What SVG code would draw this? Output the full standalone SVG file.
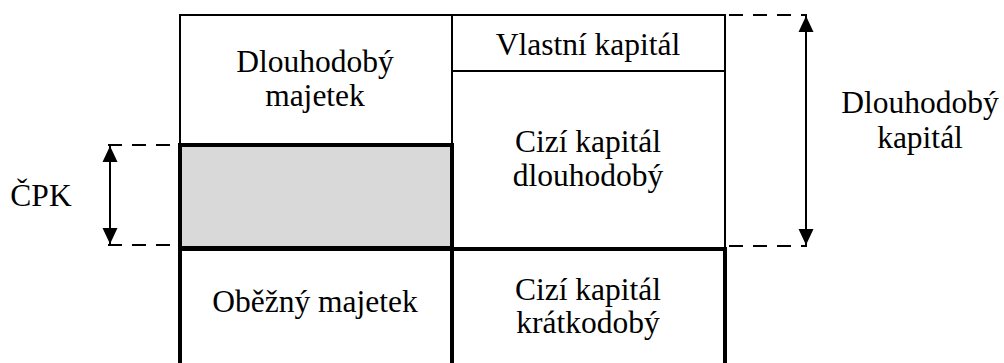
<svg xmlns="http://www.w3.org/2000/svg" width="1004" height="363" viewBox="0 0 1004 363">
<style>
.thin{fill:none;stroke:#000;stroke-width:2}
.thick{fill:none;stroke:#000;stroke-width:4}
.dash{fill:none;stroke:#000;stroke-width:2;stroke-dasharray:14 10}
.arr{fill:none;stroke:#000;stroke-width:2;marker-start:url(#ah);marker-end:url(#ah)}
text{font-family:'Liberation Serif','Times New Roman',serif;font-size:31.5px;fill:#000;text-anchor:middle}
</style>
<defs>
<marker id="ah" viewBox="0 0 16 16" refX="16" refY="8" markerWidth="16" markerHeight="16" markerUnits="userSpaceOnUse" orient="auto-start-reverse">
<path d="M0,0.5 L16,8 L0,15.5 Z" fill="#000"/>
</marker>
</defs>
<rect width="1004" height="363" fill="#fff"/>
<g id="dlouhodoby-majetek">
<rect class="thin" x="180" y="15" width="272" height="130"/>
<text x="315" y="72">Dlouhodobý</text>
<text x="315" y="106">majetek</text>
</g>
<g id="vlastni-kapital">
<rect class="thin" x="452" y="15" width="273" height="56"/>
<text x="588" y="55">Vlastní kapitál</text>
</g>
<g id="cizi-kapital-dlouhodoby">
<rect class="thin" x="452" y="71" width="273" height="178"/>
<text x="588" y="152">Cizí kapitál</text>
<text x="588" y="186">dlouhodobý</text>
</g>
<g id="cpk-box">
<rect x="180" y="145" width="272" height="103" fill="#d9d9d9" stroke="#000" stroke-width="4"/>
</g>
<g id="obezny-majetek">
<rect class="thick" x="180" y="249" width="272" height="130"/>
<text x="315" y="312">Oběžný majetek</text>
</g>
<g id="cizi-kapital-kratkodoby">
<rect class="thick" x="452" y="249" width="273" height="130"/>
<text x="588" y="300">Cizí kapitál</text>
<text x="588" y="333">krátkodobý</text>
</g>
<g id="cpk-label">
<text x="41" y="206">ČPK</text>
</g>
<g id="dlouhodoby-kapital-label">
<text x="920" y="113">Dlouhodobý</text>
<text x="920" y="148">kapitál</text>
</g>
<g id="connectors">
<path class="dash" d="M108,145 H180 M108,245 H180"/>
<path class="dash" d="M729,15 H807 M729,246 H807"/>
<path class="arr" d="M110,146 V244"/>
<path class="arr" d="M806,16 V245"/>
</g>
</svg>
